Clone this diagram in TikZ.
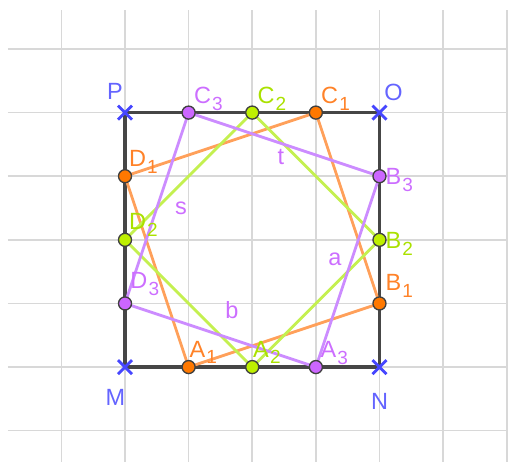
\documentclass[tikz,border=0pt]{standalone}
\usepackage{fontspec}
\setmainfont{Liberation Sans}
\usetikzlibrary{calc}
\definecolor{gridc}{RGB}{216,216,216}
\definecolor{sqc}{RGB}{70,70,70}
\definecolor{orl}{RGB}{255,160,90}
\definecolor{orp}{RGB}{255,120,0}
\definecolor{ort}{RGB}{255,130,40}
\definecolor{grl}{RGB}{196,240,80}
\definecolor{grp}{RGB}{190,240,0}
\definecolor{grt}{RGB}{170,225,0}
\definecolor{pul}{RGB}{204,140,255}
\definecolor{pup}{RGB}{204,102,255}
\definecolor{put}{RGB}{204,110,255}
\definecolor{blc}{RGB}{70,70,255}
\definecolor{blt}{RGB}{100,100,255}
\newcommand{\lbl}[2]{#1\kern0.05em\raisebox{-0.55ex}{\fontsize{8.5}{9}\selectfont #2}}
\begin{document}
\begin{tikzpicture}[x=1cm,y=1cm,
  gridline/.style={gridc,line width=0.7pt},
  sqline/.style={sqc,line width=1.5pt},
  seg/.style={line width=1.25pt},
  pt/.style={circle,draw=black!75,line width=0.6pt,minimum size=0.205cm,inner sep=0pt},
  txt/.style={font=\fontsize{10.5}{12}\selectfont,inner sep=0pt},
  crossmark/.style={blc,line width=1.3pt}]
\useasboundingbox (-1.965,-1.54) rectangle (6.02,5.77);
% grid
\foreach \x in {-1,0,...,6} \draw[gridline] (\x,-1.49) -- (\x,5.61);
\foreach \y in {-1,0,...,5} \draw[gridline] (-1.84,\y) -- (6.0,\y);
% points
\coordinate (M) at (0,0);
\coordinate (N) at (4,0);
\coordinate (O) at (4,4);
\coordinate (P) at (0,4);
\coordinate (A1) at (1,0); \coordinate (A2) at (2,0); \coordinate (A3) at (3,0);
\coordinate (B1) at (4,1); \coordinate (B2) at (4,2); \coordinate (B3) at (4,3);
\coordinate (C1) at (3,4); \coordinate (C2) at (2,4); \coordinate (C3) at (1,4);
\coordinate (D1) at (0,3); \coordinate (D2) at (0,2); \coordinate (D3) at (0,1);
% square
\draw[sqline] (M) -- (N) -- (O) -- (P) -- cycle;
% quadrilaterals
\draw[seg,orl] (A1) -- (B1) -- (C1) -- (D1) -- cycle;
\draw[seg,grl] (A2) -- (B2) -- (C2) -- (D2) -- cycle;
\draw[seg,pul] (A3) -- (B3) -- (C3) -- (D3) -- cycle;
% point markers
\foreach \p in {A1,B1,C1,D1} \node[pt,fill=orp] (m\p) at (\p) {};
\foreach \p in {A2,B2,C2,D2} \node[pt,fill=grp] (m\p) at (\p) {};
\foreach \p in {A3,B3,C3,D3} \node[pt,fill=pup] (m\p) at (\p) {};
% crosses
\foreach \p in {M,N,O,P}
  \draw[crossmark] ($(\p)+(-0.11,-0.11)$) -- ($(\p)+(0.11,0.11)$)
                   ($(\p)+(-0.11,0.11)$) -- ($(\p)+(0.11,-0.11)$);
% vertex labels
\node[txt,blt] (lP) at (-0.16,4.33) {P};
\node[txt,blt] (lO) at (4.22,4.32) {O};
\node[txt,blt] (lM) at (-0.15,-0.48) {M};
\node[txt,blt] (lN) at (4.0,-0.54) {N};
% colored labels
\node[txt,put] (lC3) at (1.31,4.22) {\lbl{C}{3}};
\node[txt,grt] (lC2) at (2.31,4.22) {\lbl{C}{2}};
\node[txt,ort] (lC1) at (3.31,4.22) {\lbl{C}{1}};
\node[txt,put] (lB3) at (4.31,2.94) {\lbl{B}{3}};
\node[txt,grt] (lB2) at (4.31,1.94) {\lbl{B}{2}};
\node[txt,ort] (lB1) at (4.31,1.27) {\lbl{B}{1}};
\node[txt,ort] (lD1) at (0.29,3.22) {\lbl{D}{1}};
\node[txt,grt] (lD2) at (0.29,2.23) {\lbl{D}{2}};
\node[txt,put] (lD3) at (0.31,1.30) {\lbl{D}{3}};
\node[txt,ort] (lA1) at (1.23,0.23) {\lbl{A}{1}};
\node[txt,grt] (lA2) at (2.23,0.23) {\lbl{A}{2}};
\node[txt,put] (lA3) at (3.29,0.22) {\lbl{A}{3}};
% segment labels
\node[txt,put] (ls) at (0.88,2.50) {s};
\node[txt,put] (lt) at (2.45,3.30) {t};
\node[txt,put] (la) at (3.30,1.70) {a};
\node[txt,put] (lb) at (1.68,0.90) {b};
\end{tikzpicture}
\end{document}
